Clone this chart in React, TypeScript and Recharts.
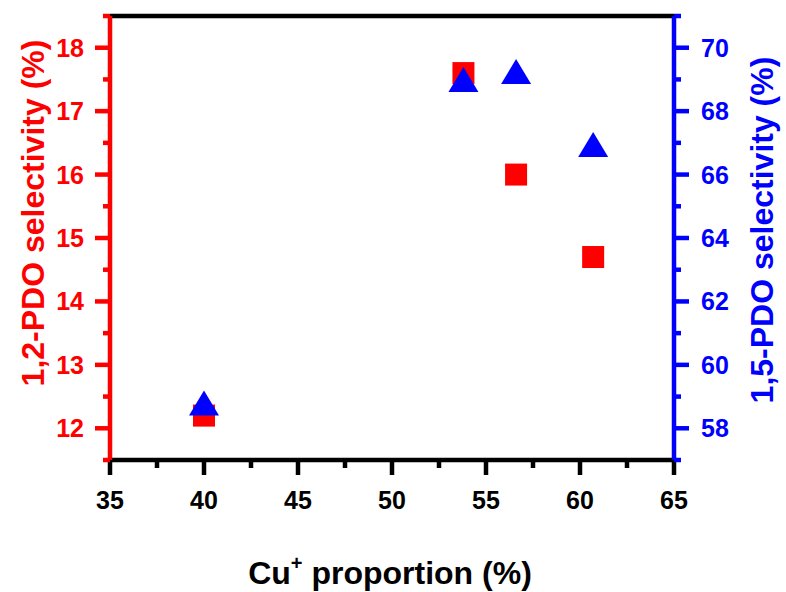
import { ScatterChart, Scatter, XAxis, YAxis, ReferenceLine } from "recharts";

// Cu+ proportion (%)
const cuProportion = [40.0, 53.8, 56.6, 60.7];
// 1,2-PDO selectivity (%)
const pdo12 = [12.2, 17.6, 16.0, 14.7];
// 1,5-PDO selectivity (%)
const pdo15 = [58.8, 69.0, 69.25, 66.95];

const xTicks = [35, 37.5, 40, 42.5, 45, 47.5, 50, 52.5, 55, 57.5, 60, 62.5, 65];
const leftTicks = [11.5, 12, 12.5, 13, 13.5, 14, 14.5, 15, 15.5, 16, 16.5, 17, 17.5, 18, 18.5];
const rightTicks = [57, 58, 59, 60, 61, 62, 63, 64, 65, 66, 67, 68, 69, 70, 71];

const RED = "#ff0000";
const BLUE = "#0000ff";
const FONT = "'Liberation Sans', Arial, sans-serif";
const TICK_FS = 25;
const TITLE_FS = 32;

const W = 786;
const H = 592;
const MARGIN = { top: 16, right: 12, bottom: 12, left: 10 };
const Y_W = 100;
const X_H = 120;
const PLOT_LEFT = MARGIN.left + Y_W;
const PLOT_RIGHT = W - MARGIN.right - Y_W;
const PLOT_BOTTOM = H - MARGIN.bottom - X_H;
const PLOT_MID_Y = (MARGIN.top + PLOT_BOTTOM) / 2;

const squareData = cuProportion.map((x, i) => ({ x, y: pdo12[i] }));
const triangleData = cuProportion.map((x, i) => ({ x, y: pdo15[i] }));

function XTick({ x, y, payload }: any) {
    const major = payload.value % 5 === 0;
    return (
        <g>
            <line x1={x} x2={x} y1={y} y2={y + (major ? 15 : 8)} stroke="#000" strokeWidth={4.5} />
            {major && (
                <text x={x} y={y + 49} textAnchor="middle" fontSize={TICK_FS} fontWeight="bold" fontFamily={FONT} fill="#000">
                    {payload.value}
                </text>
            )}
        </g>
    );
}

function LeftTick({ x, y, payload }: any) {
    const major = Number.isInteger(payload.value);
    return (
        <g>
            <line x1={x - (major ? 15 : 7)} x2={x} y1={y} y2={y} stroke={RED} strokeWidth={4.5} />
            {major && (
                <text x={x - 26} y={y + 9} textAnchor="end" fontSize={TICK_FS} fontWeight="bold" fontFamily={FONT} fill={RED}>
                    {payload.value}
                </text>
            )}
        </g>
    );
}

function RightTick({ x, y, payload }: any) {
    const major = payload.value % 2 === 0;
    return (
        <g>
            <line x1={x} x2={x + (major ? 15 : 7)} y1={y} y2={y} stroke={BLUE} strokeWidth={4.5} />
            {major && (
                <text x={x + 27} y={y + 9} textAnchor="start" fontSize={TICK_FS} fontWeight="bold" fontFamily={FONT} fill={BLUE}>
                    {payload.value}
                </text>
            )}
        </g>
    );
}

function SquareShape({ cx, cy }: any) {
    return <rect x={cx - 11} y={cy - 11} width={22} height={22} fill={RED} />;
}

function TriangleShape({ cx, cy }: any) {
    const w = 30;
    const h = 25;
    const pts = `${cx},${cy - h / 2} ${cx - w / 2},${cy + h / 2} ${cx + w / 2},${cy + h / 2}`;
    return <polygon points={pts} fill={BLUE} />;
}

function XTitle() {
    return (
        <text x={(PLOT_LEFT + PLOT_RIGHT) / 2 - 2} y={584} textAnchor="middle" fontSize={TITLE_FS} fontWeight="bold" fontFamily={FONT} fill="#000">
            Cu
            <tspan fontSize={20} dy={-14}>+</tspan>
            <tspan dy={14}> proportion (%)</tspan>
        </text>
    );
}

function LeftTitle() {
    const cx = 33;
    const cy = PLOT_MID_Y - 25;
    return (
        <text x={cx} y={cy} transform={`rotate(-90 ${cx} ${cy})`} textAnchor="middle" dominantBaseline="central"
              fontSize={TITLE_FS} fontWeight="bold" fontFamily={FONT} fill={RED}>
            1,2-PDO selectivity (%)
        </text>
    );
}

function RightTitle() {
    const cx = 762;
    const cy = PLOT_MID_Y - 8;
    return (
        <text x={cx} y={cy} transform={`rotate(-90 ${cx} ${cy})`} textAnchor="middle" dominantBaseline="central"
              fontSize={TITLE_FS} fontWeight="bold" fontFamily={FONT} fill={BLUE}>
            1,5-PDO selectivity (%)
        </text>
    );
}

export default function App() {
    return (
        <div style={{ position: "absolute", left: 0, top: 0, background: "#fff" }}>
            <ScatterChart width={W} height={H} margin={MARGIN}>
                <XAxis type="number" dataKey="x" xAxisId="x" domain={[35, 65]} ticks={xTicks}
                       allowDataOverflow height={X_H} tickSize={0} tickMargin={0} tickLine={false}
                       axisLine={{ stroke: "#000", strokeWidth: 4.5 }} tick={<XTick />} interval={0}
                       label={<XTitle />} />
                <YAxis type="number" dataKey="y" yAxisId="left" orientation="left" domain={[11.5, 18.5]}
                       ticks={leftTicks} allowDataOverflow width={Y_W} tickSize={0} tickMargin={0} tickLine={false}
                       axisLine={{ stroke: RED, strokeWidth: 4.5 }} tick={<LeftTick />} interval={0}
                       label={<LeftTitle />} />
                <YAxis type="number" dataKey="y" yAxisId="right" orientation="right" domain={[57, 71]}
                       ticks={rightTicks} allowDataOverflow width={Y_W} tickSize={0} tickMargin={0} tickLine={false}
                       axisLine={{ stroke: BLUE, strokeWidth: 4.5 }} tick={<RightTick />} interval={0}
                       label={<RightTitle />} />
                <ReferenceLine xAxisId="x" yAxisId="left" y={18.5} stroke="#000" strokeWidth={4.5} />
                <Scatter data={squareData} xAxisId="x" yAxisId="left" shape={<SquareShape />} isAnimationActive={false} />
                <Scatter data={triangleData} xAxisId="x" yAxisId="right" shape={<TriangleShape />} isAnimationActive={false} />
            </ScatterChart>
        </div>
    );
}
